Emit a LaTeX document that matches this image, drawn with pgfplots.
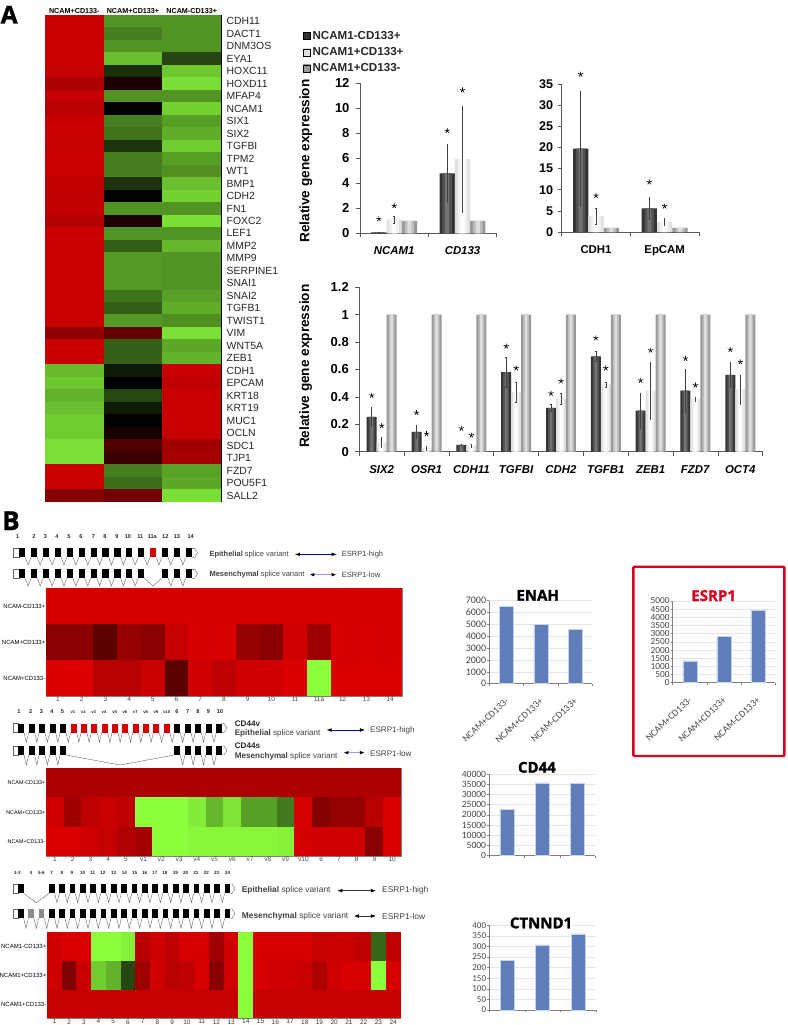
\documentclass[border=0pt]{standalone}
\usepackage{fontspec}
\setmainfont{Liberation Sans}
\newfontfamily\carl{Carlito}
\newfontfamily\osans[BoldFeatures={FakeBold=1.3}]{Open Sans}
\usepackage{pgfplots}
\usepackage{pgfplotstable}
\pgfplotsset{compat=1.18}
\usetikzlibrary{arrows.meta}
\newcommand{\fs}[1]{\fontsize{#1}{#1}\selectfont}
\definecolor{bluebar}{RGB}{96,127,186}
\definecolor{blueedge}{RGB}{198,211,232}
\definecolor{redbox}{RGB}{216,0,28}
\definecolor{ticktxt}{RGB}{70,70,70}
\pgfplotsset{
  /pgf/number format/assume math mode=true,
  /pgf/number format/1000 sep={},
  /pgf/number format/fixed,
  scaled y ticks=false,
  % heat map cell: half width, height/width
  cell/.style 2 args={scatter, only marks, scatter src=explicit, mark=square*, mark size=#1,
    scatter/use mapped color={fill=mapped color}, mark options={yscale=#2, draw opacity=0}},
  hm/.style={scale only axis, enlargelimits=false, y dir=reverse,
    colormap={rg}{rgb255(0cm)=(230,0,0); rgb255(1cm)=(0,0,0); rgb255(2cm)=(140,255,60)},
    point meta min=-1, point meta max=1, major tick length=0pt,
    ymin=0.5, ymax=3.5, ytick={1,2,3}, axis on top,
    axis line style={gray, line width=.5pt},
    xticklabel style={font=\fs{6.5}, text=ticktxt, inner ysep=1pt},
    yticklabel style={font=\fs{6}, text=black, inner xsep=0pt, xshift=-.5pt}},
  gx/.style={scale only axis, axis x line*=bottom, axis y line*=left, tick align=outside,
    major tick length=4pt, axis line style={black!65, line width=.6pt}, tick style={black!65, line width=.6pt},
    yticklabel style={font=\fs{13}\bfseries, xshift=-3pt},
    extra x tick style={major tick length=0pt, xticklabel style={font=\fs{11.4}\bfseries, yshift=-10pt}},
    xticklabels={}, clip=false},
  eb/.style={error bars/.cd, y dir=both, y explicit,
    error bar style={black!75, line width=.55pt}, error mark options={rotate=90, black!75, mark size=.7pt}},
  st/.style={only marks, mark=star, mark size=2.7pt, black, mark options={line width=.65pt}},
  bb/.style={scale only axis, axis x line*=bottom, axis y line*=left, tick align=outside, ymajorgrids,
    grid style={black!10, line width=.6pt}, major tick length=2pt,
    axis line style={black!50, line width=.8pt}, tick style={black!50, line width=.5pt},
    xmin=0.5, xmax=3.5, xtick={0.5,1.5,2.5,3.5}, xticklabels={},
    yticklabel style={font=\carl\fs{10}, text=ticktxt, inner xsep=1pt},
    title style={font=\osans\fs{15}\bfseries, at={(0.5,1)}, anchor=base, yshift=-6pt},
    extra x ticks={1,2,3}, extra x tick labels={NCAM+CD133-,NCAM+CD133+,NCAM-CD133+},
    extra x tick style={major tick length=0pt, grid=none, xticklabel style={font=\carl\fs{9.7}, text=ticktxt, rotate=43, anchor=north east, xshift=-7pt, yshift=-5.5pt}}},
  bp/.style={ybar, bar shift=0pt, bar width=14pt, fill=bluebar, draw=blueedge, line width=.5pt},
}
% qPCR bars: x position, mean, error
\pgfplotstableread{
x y e
0.776 0.07 0.03
1.776 4.8 2.3
}\ncamdark
\pgfplotstableread{
x y e
1 1.1 0.3
2 5.95 4.25
}\ncamlight
\pgfplotstableread{
x y e
1.224 1 0
2.224 1 0
}\ncamcontrol
\pgfplotstableread{
x y e
0.776 19.7 13.5
1.776 5.6 2.6
}\cdhdark
\pgfplotstableread{
x y e
1 3.75 1.85
2 2.4 0.75
}\cdhlight
\pgfplotstableread{
x y e
0.777 0.255 0.07
1.777 0.145 0.05
2.777 0.05 0.005
3.777 0.58 0.11
4.777 0.32 0.025
5.777 0.695 0.035
6.777 0.30 0.125
7.777 0.445 0.155
8.777 0.56 0.09
}\emtdark
\pgfplotstableread{
x y e
1 0.07 0.035
2 0.025 0.012
3 0.045 0.01
4 0.435 0.07
5 0.39 0.04
6 0.49 0.02
7 0.445 0.21
8 0.385 0.015
9 0.455 0.105
}\emtlight
\pgfplotstableread{
x y e
1.223 1 0
2.223 1 0
3.223 1 0
4.223 1 0
5.223 1 0
6.223 1 0
7.223 1 0
8.223 1 0
9.223 1 0
}\emtcontrol
% banded bar: table, three widths, three colours
\newcommand{\tribar}[7]{%
  \addplot[ybar, bar shift=0pt, bar width=#2, draw=none, fill=#5, forget plot] table[x=x,y=y] {#1};
  \addplot[ybar, bar shift=0pt, bar width=#3, draw=none, fill=#6, forget plot] table[x=x,y=y] {#1};
  \addplot[ybar, bar shift=0pt, bar width=#4, draw=none, fill=#7, forget plot] table[x=x,y=y] {#1};}
\newcommand{\errs}[1]{\addplot[draw=none, mark=none, forget plot, eb] table[x=x,y=y,y error=e] {#1};}
\newcommand{\darkbar}[4]{\tribar{#1}{#2}{#3}{#4}{black!80}{black!68}{black!55}}
\newcommand{\lightbar}[4]{\tribar{#1}{#2}{#3}{#4}{black!12}{black!5}{white}}
\newcommand{\ctrlbar}[4]{\tribar{#1}{#2}{#3}{#4}{black!40}{black!26}{black!13}}
% exon row in zoom units: top, height, apex, width, starts
\newcommand{\exons}[5]{%
  \foreach \x [remember=\x as \p (initially -1)] in {#5} {
    \fill[black] (\x,#1) rectangle ++(#4,#2);
    \ifnum\p>-1 \draw[black!60, line width=.4pt] ({\p+#4},{#1+#2}) -- ({(\p+#4+\x)/2},#3) -- (\x,{#1+#2}); \fi
  }}
% start box and end tip: top, height, x box, x box end, x tip start, x tip end
\newcommand{\caps}[6]{%
  \draw[black!60, line width=.4pt, fill=white] (#3,#1) rectangle (#4,{#1+#2});
  \draw[black!60, line width=.4pt, fill=white] (#5,#1) -- ({#6-9},#1) -- (#6,{#1+#2/2}) -- ({#6-9},{#1+#2}) -- (#5,{#1+#2});}
\newcommand{\hiarrow}[4]{\draw[#4, {Latex[black,length=5pt,width=3.6pt]}-{Latex[black,length=5pt,width=3.6pt]}] (#1,#3) -- (#2,#3);}
\begin{document}
\begin{tikzpicture}
\path[use as bounding box] (0pt,0pt) rectangle (787pt,-1025pt);

\node[anchor=base west, inner sep=0pt, font=\osans\fs{24.5}\bfseries] at (0.5pt,-23.5pt) {A};
\node[anchor=base west, inner sep=0pt, font=\osans\fs{26}\bfseries] at (2pt,-530pt) {B};

% panel A heat map
\begin{axis}[hm, at={(45pt,-501.7pt)}, anchor=south west, width=176pt, height=486.7pt,
  xmin=0.5, xmax=3.5, ymin=0.5, ymax=39.5,
  xtick={1,2,3}, xticklabels={NCAM+CD133-,NCAM+CD133+,NCAM-CD133+}, xticklabel pos=upper,
  xticklabel style={font=\fs{7.2}\bfseries, text=black, yshift=.5pt},
  ytick={1,...,39}, yticklabel pos=right,
  yticklabels={CDH11,DACT1,DNM3OS,EYA1,HOXC11,HOXD11,MFAP4,NCAM1,SIX1,SIX2,TGFBI,TPM2,WT1,BMP1,CDH2,FN1,FOXC2,LEF1,MMP2,MMP9,SERPINE1,SNAI1,SNAI2,TGFB1,TWIST1,VIM,WNT5A,ZEB1,CDH1,EPCAM,KRT18,KRT19,MUC1,OCLN,SDC1,TJP1,FZD7,POU5F1,SALL2},
  yticklabel style={font=\fs{10.4}, text=black!85, anchor=west, inner xsep=0pt, xshift=6pt},
  axis line style={black, line width=.6pt}]
\addplot[cell={29.45pt}{.2135}] coordinates {
(1,1)[-.87] (2,1)[.58] (3,1)[.58]
(1,2)[-.87] (2,2)[.5] (3,2)[.58]
(1,3)[-.87] (2,3)[.58] (3,3)[.58]
(1,4)[-.87] (2,4)[.75] (3,4)[.27]
(1,5)[-.85] (2,5)[.18] (3,5)[.78]
(1,6)[-.75] (2,6)[-.12] (3,6)[.87]
(1,7)[-.85] (2,7)[.58] (3,7)[.58]
(1,8)[-.8] (2,8)[0] (3,8)[.82]
(1,9)[-.87] (2,9)[.5] (3,9)[.62]
(1,10)[-.87] (2,10)[.45] (3,10)[.68]
(1,11)[-.85] (2,11)[.2] (3,11)[.8]
(1,12)[-.87] (2,12)[.5] (3,12)[.62]
(1,13)[-.87] (2,13)[.5] (3,13)[.57]
(1,14)[-.84] (2,14)[.2] (3,14)[.75]
(1,15)[-.83] (2,15)[0] (3,15)[.82]
(1,16)[-.85] (2,16)[.58] (3,16)[.58]
(1,17)[-.78] (2,17)[-.12] (3,17)[.87]
(1,18)[-.87] (2,18)[.58] (3,18)[.58]
(1,19)[-.87] (2,19)[.37] (3,19)[.72]
(1,20)[-.87] (2,20)[.6] (3,20)[.58]
(1,21)[-.87] (2,21)[.6] (3,21)[.58]
(1,22)[-.87] (2,22)[.6] (3,22)[.58]
(1,23)[-.87] (2,23)[.45] (3,23)[.63]
(1,24)[-.87] (2,24)[.37] (3,24)[.68]
(1,25)[-.87] (2,25)[.6] (3,25)[.56]
(1,26)[-.62] (2,26)[-.43] (3,26)[.88]
(1,27)[-.87] (2,27)[.38] (3,27)[.66]
(1,28)[-.87] (2,28)[.38] (3,28)[.7]
(1,29)[.73] (2,29)[.1] (3,29)[-.87]
(1,30)[.78] (2,30)[0] (3,30)[-.83]
(1,31)[.7] (2,31)[.28] (3,31)[-.87]
(1,32)[.75] (2,32)[.1] (3,32)[-.87]
(1,33)[.8] (2,33)[0] (3,33)[-.87]
(1,34)[.8] (2,34)[-.1] (3,34)[-.87]
(1,35)[.88] (2,35)[-.35] (3,35)[-.7]
(1,36)[.88] (2,36)[-.25] (3,36)[-.73]
(1,37)[-.87] (2,37)[.5] (3,37)[.63]
(1,38)[-.87] (2,38)[.43] (3,38)[.66]
(1,39)[-.58] (2,39)[-.5] (3,39)[.87]
};
\end{axis}

% qPCR, NCAM1 and CD133
\begin{axis}[gx, at={(360pt,-233.3pt)}, anchor=south west, width=136.7pt, height=150pt,
  xmin=0.5, xmax=2.5, ymin=0, ymax=12, xtick={0.5,1.5,2.5}, ytick={0,2,4,6,8,10,12},
  extra x ticks={1,2}, extra x tick labels={\textit{NCAM1},\textit{CD133}},
  ylabel={Relative gene expression}, ylabel style={font=\fs{13.6}\bfseries},
  every axis y label/.append style={at={(axis description cs:-0.395,0.482)}, anchor=center},
  legend style={at={(-0.417,1.362)}, anchor=north west, draw=none, fill=none, font=\fs{11.6}\bfseries, text=black!85,
    row sep=2.6pt, inner sep=0pt},
  legend cell align=left]
\addlegendimage{legend image code/.code={\shade[left color=black!80, middle color=black!50, right color=black!80] (0pt,-3.5pt) rectangle (7pt,3.5pt);}}
\addlegendentry{NCAM1-CD133+}
\addlegendimage{legend image code/.code={\shade[left color=black!12, middle color=white, right color=black!12] (0pt,-3.5pt) rectangle (7pt,3.5pt);}}
\addlegendentry{NCAM1+CD133+}
\addlegendimage{legend image code/.code={\shade[left color=black!40, middle color=black!13, right color=black!40] (0pt,-3.5pt) rectangle (7pt,3.5pt);}}
\addlegendentry{NCAM1+CD133-}
\darkbar{\ncamdark}{15.3pt}{9.5pt}{4pt}
\lightbar{\ncamlight}{15.3pt}{9.5pt}{4pt}
\ctrlbar{\ncamcontrol}{15.3pt}{9.5pt}{4pt}
\errs{\ncamdark}
\errs{\ncamlight}
\addplot[st, forget plot] coordinates {(0.776,1.15) (1,2.2) (1.776,8.2) (2,11.45)};
\end{axis}

% qPCR, CDH1 and EpCAM
\begin{axis}[gx, at={(561.7pt,-232pt)}, anchor=south west, width=137.3pt, height=148pt,
  xmin=0.5, xmax=2.5, ymin=0, ymax=35, xtick={0.5,1.5,2.5}, ytick={0,5,10,15,20,25,30,35},
  yticklabel style={font=\fs{12.6}\bfseries, xshift=2pt},
  extra x ticks={1,2}, extra x tick labels={CDH1,EpCAM}]
\darkbar{\cdhdark}{15.3pt}{9.5pt}{4pt}
\lightbar{\cdhlight}{15.3pt}{9.5pt}{4pt}
\ctrlbar{\ncamcontrol}{15.3pt}{9.5pt}{4pt}
\errs{\cdhdark}
\errs{\cdhlight}
\addplot[st] coordinates {(0.776,37.3) (1,8.6) (1.776,11.8) (2,6.1)};
\end{axis}

% qPCR, nine genes
\begin{axis}[gx, at={(359.3pt,-451.7pt)}, anchor=south west, width=403.4pt, height=164.4pt,
  xmin=0.5, xmax=9.5, ymin=0, ymax=1.2, xtick={0.5,1.5,...,9.5}, ytick={0,0.2,0.4,0.6,0.8,1,1.2},
  extra x ticks={1,2,3,4,5,6,7,8,9},
  extra x tick labels={\textit{SIX2},\textit{OSR1},\textit{CDH11},\textit{TGFBI},\textit{CDH2},\textit{TGFB1},\textit{ZEB1},\textit{FZD7},\textit{OCT4}},
  ylabel={Relative gene expression}, ylabel style={font=\fs{13.6}\bfseries},
  every axis y label/.append style={at={(axis description cs:-0.133,0.52)}, anchor=center}]
\darkbar{\emtdark}{10pt}{6pt}{2.5pt}
\lightbar{\emtlight}{10pt}{6pt}{2.5pt}
\ctrlbar{\emtcontrol}{10pt}{6pt}{2.5pt}
\errs{\emtdark}
\errs{\emtlight}
\addplot[st] coordinates {
 (0.777,0.41) (1,0.19) (1.777,0.285) (2,0.13) (2.777,0.17) (3,0.12)
 (3.777,0.77) (4,0.61) (4.777,0.425) (5,0.515) (5.777,0.83) (6,0.61)
 (6.777,0.52) (7,0.74) (7.777,0.68) (8,0.485) (8.777,0.745) (9,0.655)};
\end{axis}

% ENAH exon diagram
\begin{scope}[yshift=-505pt, x=.3333pt, y=-.3333pt]
\foreach \x/\t in {53/1,102/2,136/3,171/4,207/5,243/6,280/7,315/8,351/9,384/10,421/11,457/11a,496/12,531/13,572/14}
  \node[font=\fs{5.6}\bfseries, text=black!85, inner sep=0pt] at (\x,95) {\t};
\caps{130}{27}{40}{57}{576}{593}
\exons{130}{27}{180}{19}{57,93,129,165,200,236,272,307,343,378,414,450,485,521,557}
\fill[red!85!black] (450,130) rectangle ++(19,27);
\caps{193}{27}{40}{57}{576}{593}
\exons{193}{27}{243}{19}{57,93,129,165,200,236,272,307,343,378,414,485,521,557}
\node[anchor=west, inner sep=0pt, font=\fs{7.5}, text=black!75] at (628,148) {\textbf{Epithelial} splice variant};
\node[anchor=west, inner sep=0pt, font=\fs{7.5}, text=black!75] at (628,209) {\textbf{Mesenchymal} splice variant};
\hiarrow{885}{1010}{148}{blue!75!black, line width=.5pt}
\hiarrow{928}{1010}{209}{blue!40, line width=1.1pt}
\node[anchor=west, inner sep=0pt, font=\fs{7.5}, text=black!75] at (1025,148) {ESRP1-high};
\node[anchor=west, inner sep=0pt, font=\fs{7.5}, text=black!75] at (1025,209) {ESRP1-low};
\end{scope}

% ENAH heat map
\begin{axis}[hm, at={(46pt,-696pt)}, anchor=south west, width=356pt, height=107.5pt,
  xmin=0.5, xmax=15.5, xtick={1,...,15}, xticklabels={1,2,3,4,5,6,7,8,9,10,11,11a,12,13,14},
  yticklabels={NCAM-CD133+,NCAM+CD133+,NCAM+CD133-}]
\addplot[cell={11.95pt}{1.51}] coordinates {
(1,1)[-.93] (2,1)[-.93] (3,1)[-.93] (4,1)[-.93] (5,1)[-.93] (6,1)[-.93] (7,1)[-.93] (8,1)[-.93] (9,1)[-.93] (10,1)[-.93] (11,1)[-.93] (12,1)[-.93] (13,1)[-.93] (14,1)[-.93] (15,1)[-.93]
(1,2)[-.6] (2,2)[-.6] (3,2)[-.4] (4,2)[-.65] (5,2)[-.6] (6,2)[-.85] (7,2)[-.93] (8,2)[-.95] (9,2)[-.65] (10,2)[-.6] (11,2)[-.9] (12,2)[-.68] (13,2)[-.93] (14,2)[-.95] (15,2)[-.93]
(1,3)[-.95] (2,3)[-.97] (3,3)[-.8] (4,3)[-.8] (5,3)[-.87] (6,3)[-.4] (7,3)[-.9] (8,3)[-.83] (9,3)[-.9] (10,3)[-.9] (11,3)[-.95] (12,3)[1] (13,3)[-.95] (14,3)[-.95] (15,3)[-.95]
};
\end{axis}

% CD44 exon diagram
\begin{scope}[yshift=-680pt, x=.3333pt, y=-.3333pt]
\foreach \x/\t in {57/1,92/2,124/3,156/4,187/5,531/6,563/7,594/8,625/9,660/10}
  \node[font=\fs{5.6}\bfseries, text=black!85, inner sep=0pt] at (\x,95) {\t};
\foreach \x/\t in {219/v1,250/v2,281/v3,312/v4,344/v5,375/v6,406/v7,437/v8,468/v9,500/v10}
  \node[font=\fs{4.2}\bfseries, text=black!85, inner sep=0pt] at (\x,95) {\t};
\caps{131}{27}{40}{54}{666}{681}
\exons{131}{27}{187}{18}{54,86,117,149,180,212,243,274,305,336,367,398,429,460,492,523,555,586,617,649}
\foreach \x in {212,243,274,305,336,367,398,429,460,492} \fill[red!85!black] (\x,131) rectangle ++(18,27);
\caps{198}{27}{40}{54}{666}{681}
\exons{198}{27}{255}{18}{54,86,117,149,180,523,555,586,617,649}
\node[anchor=west, inner sep=0pt, font=\fs{8.1}\bfseries, text=black!85] at (704,130) {CD44v};
\node[anchor=west, inner sep=0pt, font=\fs{8.1}, text=black!75] at (704,160) {\textbf{Epithelial} splice variant};
\node[anchor=west, inner sep=0pt, font=\fs{8.1}\bfseries, text=black!85] at (704,197) {CD44s};
\node[anchor=west, inner sep=0pt, font=\fs{8.1}, text=black!75] at (704,228) {\textbf{Mesenchymal} splice variant};
\hiarrow{980}{1095}{150}{blue!75!black, line width=.5pt}
\hiarrow{1030}{1095}{218}{blue!40, line width=1.1pt}
\node[anchor=west, inner sep=0pt, font=\fs{8.1}, text=black!75] at (1110,150) {ESRP1-high};
\node[anchor=west, inner sep=0pt, font=\fs{8.1}, text=black!75] at (1110,220) {ESRP1-low};
\end{scope}

% CD44 heat map
\begin{axis}[hm, at={(46pt,-856pt)}, anchor=south west, width=355pt, height=87.7pt,
  xmin=0.5, xmax=20.5, xtick={1,...,20}, xticklabels={1,2,3,4,5,v1,v2,v3,v4,v5,v6,v7,v8,v9,v10,6,7,8,9,10},
  yticklabels={NCAM-CD133+,NCAM+CD133+,NCAM+CD133-}, yticklabel style={font=\fs{5.4}}]
\addplot[cell={8.95pt}{1.65}] coordinates {
(1,1)[-.75] (2,1)[-.75] (3,1)[-.75] (4,1)[-.75] (5,1)[-.75] (6,1)[-.75] (7,1)[-.75] (8,1)[-.75] (9,1)[-.75] (10,1)[-.75] (11,1)[-.75] (12,1)[-.75] (13,1)[-.75] (14,1)[-.75] (15,1)[-.75] (16,1)[-.75] (17,1)[-.75] (18,1)[-.75] (19,1)[-.75] (20,1)[-.75]
(1,2)[-.9] (2,2)[-.68] (3,2)[-.83] (4,2)[-.87] (5,2)[-.83] (6,2)[1] (7,2)[1] (8,2)[1] (9,2)[.93] (10,2)[.72] (11,2)[.9] (12,2)[.62] (13,2)[.62] (14,2)[.48] (15,2)[-.93] (16,2)[-.58] (17,2)[-.65] (18,2)[-.65] (19,2)[-.8] (20,2)[-.95]
(1,3)[-.95] (2,3)[-.95] (3,3)[-.9] (4,3)[-.85] (5,3)[-.77] (6,3)[-.72] (7,3)[1] (8,3)[1] (9,3)[.97] (10,3)[.97] (11,3)[.97] (12,3)[.97] (13,3)[.97] (14,3)[.95] (15,3)[-.93] (16,3)[-.9] (17,3)[-.9] (18,3)[-.9] (19,3)[-.6] (20,3)[-.95]
};
\end{axis}

% CTNND1 exon diagram
\begin{scope}[yshift=-850pt, x=.3333pt, y=-.3333pt]
\foreach \x/\t in {52/1-3,93/4,124/5-6,155/7,186/8,216/9,248/10,278/11,309/12,341/13,373/14,404/15,434/16,465/17,495/18,526/19,557/20,588/21,619/22,650/23,683/24}
  \node[font=\fs{4.6}\bfseries, text=black!85, inner sep=0pt] at (\x,68) {\t};
\caps{102}{28}{40}{54}{691}{705}
\exons{102}{28}{158}{17}{54,147,178,209,240,271,302,333,364,395,426,457,488,519,550,581,612,643,674}
\caps{177}{28}{40}{54}{691}{705}
\exons{177}{28}{235}{17}{54,85,116,147,178,209,240,271,302,333,364,395,426,457,488,519,550,581,612,643,674}
\foreach \x in {85,116} \fill[black!45] (\x,177) rectangle ++(17,28);
\node[anchor=west, inner sep=0pt, font=\fs{8.4}, text=black!75] at (725,122) {\textbf{Epithelial} splice variant};
\node[anchor=west, inner sep=0pt, font=\fs{8.4}, text=black!75] at (725,198) {\textbf{Mesenchymal} splice variant};
\hiarrow{1012}{1128}{122}{black!80, line width=.5pt}
\hiarrow{1062}{1128}{198}{black!80, line width=.5pt}
\node[anchor=west, inner sep=0pt, font=\fs{8.4}, text=black!75] at (1146,122) {ESRP1-high};
\node[anchor=west, inner sep=0pt, font=\fs{8.4}, text=black!75] at (1146,198) {ESRP1-low};
\end{scope}

% CTNND1 heat map
\begin{axis}[hm, at={(47pt,-1018.3pt)}, anchor=south west, width=353.5pt, height=86pt,
  xmin=0.5, xmax=24.5, xtick={1,...,24},
  xticklabel style={text=black!80},
  yticklabels={NCAM1-CD133+,NCAM1+CD133+,NCAM1+CD133-}]
\addplot[cell={7.45pt}{1.94}] coordinates {
(1,1)[-.9] (2,1)[-.95] (3,1)[-.95] (4,1)[1] (5,1)[1] (6,1)[.95] (7,1)[-.8] (8,1)[-.9] (9,1)[-.82] (10,1)[-.93] (11,1)[-.93] (12,1)[-.7] (13,1)[-.9] (14,1)[1] (15,1)[-.93] (16,1)[-.93] (17,1)[-.93] (18,1)[-.93] (19,1)[-.85] (20,1)[-.87] (21,1)[-.87] (22,1)[-.82] (23,1)[.4] (24,1)[-.82]
(1,2)[-.9] (2,2)[-.55] (3,2)[-.87] (4,2)[.8] (5,2)[.7] (6,2)[.27] (7,2)[-.68] (8,2)[-.9] (9,2)[-.8] (10,2)[-.83] (11,2)[-.93] (12,2)[-.6] (13,2)[-.9] (14,2)[1] (15,2)[-.93] (16,2)[-.9] (17,2)[-.9] (18,2)[-.87] (19,2)[-.75] (20,2)[-.9] (21,2)[-.95] (22,2)[-.93] (23,2)[1] (24,2)[-.93]
(1,3)[-.85] (2,3)[-.85] (3,3)[-.85] (4,3)[-.85] (5,3)[-.85] (6,3)[-.85] (7,3)[-.85] (8,3)[-.85] (9,3)[-.85] (10,3)[-.85] (11,3)[-.85] (12,3)[-.85] (13,3)[-.85] (14,3)[1] (15,3)[-.85] (16,3)[-.85] (17,3)[-.85] (18,3)[-.85] (19,3)[-.85] (20,3)[-.85] (21,3)[-.85] (22,3)[-.85] (23,3)[-.85] (24,3)[-.85]
};
\end{axis}

% expression bars, panel B
\begin{axis}[bb, at={(489.3pt,-683.7pt)}, anchor=south west, width=103pt, height=83pt,
  ymin=0, ymax=7000, ytick={0,1000,...,7000}, title={ENAH}, title style={at={(0.47,1)}}]
\addplot[bp] coordinates {(1,6550) (2,5000) (3,4600)};
\end{axis}
\begin{axis}[bb, at={(672.7pt,-682.7pt)}, anchor=south west, width=102.3pt, height=81.7pt,
  ymin=0, ymax=5000, ytick={0,500,...,5000}, title={\textcolor{redbox}{ESRP1}}, title style={at={(0.4,1)}},
  yticklabel style={font=\carl\fs{9.3}}]
\addplot[bp] coordinates {(1,1340) (2,2840) (3,4440)};
\end{axis}
\begin{axis}[bb, at={(489.3pt,-855.7pt)}, anchor=south west, width=105.7pt, height=81.7pt,
  ymin=0, ymax=40000, ytick={0,5000,...,40000}, title={CD44}, title style={at={(0.45,1)}, yshift=1.3pt},
  yticklabel style={font=\carl\fs{9.6}}, extra x tick labels={,,}]
\addplot[bp] coordinates {(1,22800) (2,35700) (3,35400)};
\end{axis}
\begin{axis}[bb, at={(489.3pt,-1010pt)}, anchor=south west, width=106.7pt, height=84.7pt,
  ymin=0, ymax=400, ytick={0,50,...,400}, title={CTNND1}, title style={at={(0.485,1)}, yshift=-3pt},
  yticklabel style={font=\carl\fs{9}}, extra x tick labels={,,}]
\addplot[bp] coordinates {(1,234) (2,308) (3,360)};
\end{axis}

\draw[redbox, line width=2.4pt, rounded corners=1pt] (633.3pt,-566.7pt) rectangle (784.3pt,-756pt);
\end{tikzpicture}
\end{document}
